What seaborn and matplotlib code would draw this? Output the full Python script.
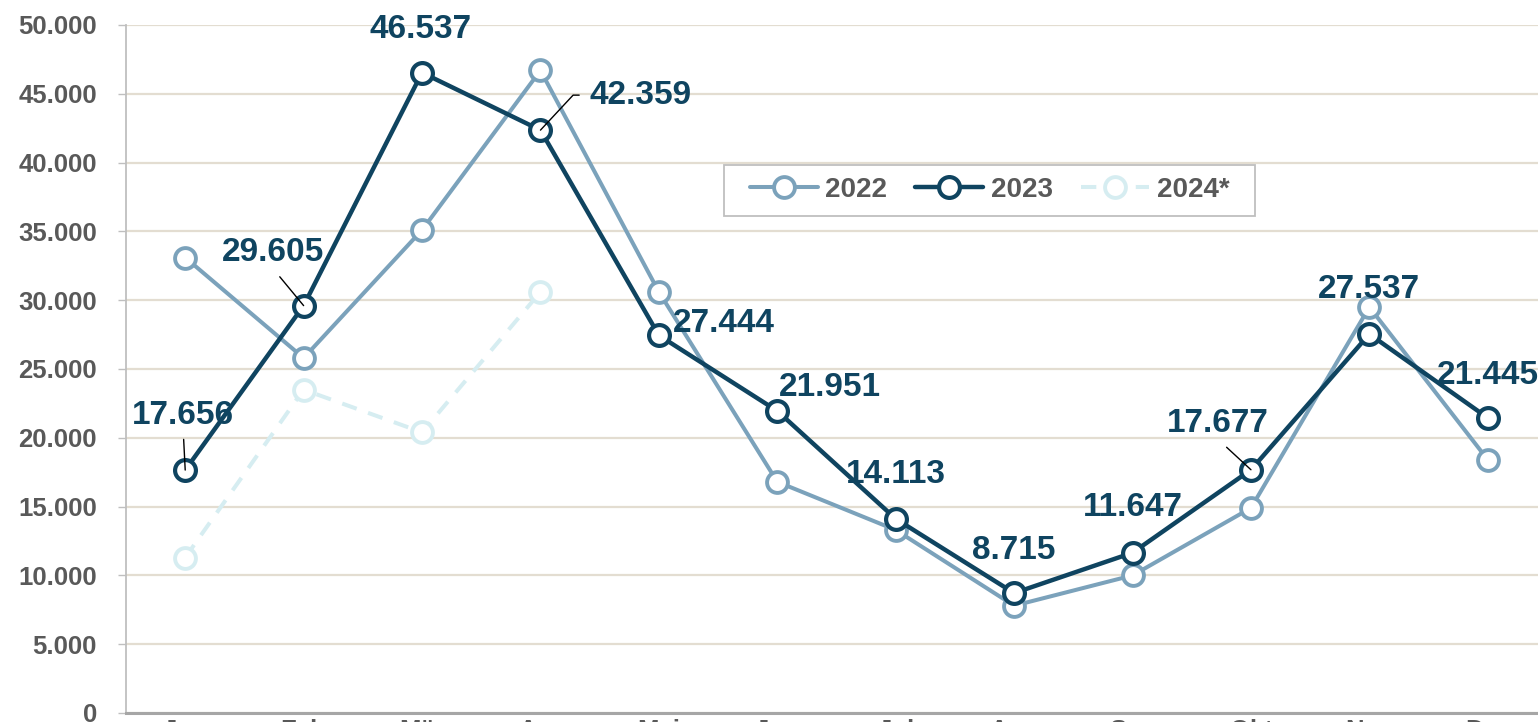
import matplotlib
matplotlib.use("Agg")
import matplotlib.pyplot as plt
import matplotlib.ticker as mticker
from matplotlib.patches import Rectangle
from matplotlib.transforms import IdentityTransform
import pandas as pd
import seaborn as sns

# Monthly values
months = ["Jan", "Feb", "Mär", "Apr", "Mai", "Jun", "Jul", "Aug", "Sep", "Okt", "Nov", "Dez"]
values_2022 = [33100, 25800, 35100, 46700, 30600, 16800, 13300, 7800, 10000, 14900, 29500, 18400]
values_2023 = [17656, 29605, 46537, 42359, 27444, 21951, 14113, 8715, 11647, 17677, 27537, 21445]
values_2024 = [11300, 23500, 20400, 30600]
series_names = ["2022", "2023", "2024*"]

# Placement of the 2023 value labels (pixel offsets from the point) and leader lines
label_offsets = [(-2, 55), (-31, 53), (-1, 43), (100, 35), (65, 12), (53, 23),
                 (0, 44), (0, 43), (0, 45), (-33, 46), (0, 45), (0, 42)]
leaders = {
    0: dict(connectionstyle="arc3", relpos=(0.5, 0.0), shrinkA=4),
    1: dict(connectionstyle="arc3", relpos=(0.5, 0.0), shrinkA=5),
    3: dict(connectionstyle="angle,angleA=0,angleB=47,rad=0", relpos=(0.0, 0.5), shrinkA=5),
    9: dict(connectionstyle="arc3", relpos=(0.5, 0.0), shrinkA=5),
}

C2022 = "#7BA2BB"
C2023 = "#0F4460"
C2024 = "#D6EDF1"
GRID = "#E3DDD1"
TICK_TXT = "#595959"

sns.set_style("white")
plt.rcParams["font.family"] = ["Liberation Sans", "DejaVu Sans"]

DPI = 100
fig = plt.figure(figsize=(15.38, 7.22), dpi=DPI)
ax = fig.add_axes([126 / 1538, 9 / 722, 1421 / 1538, 688 / 722])

df22 = pd.DataFrame({"m": range(len(values_2022)), "v": values_2022})
df23 = pd.DataFrame({"m": range(len(values_2023)), "v": values_2023})
df24 = pd.DataFrame({"m": range(len(values_2024)), "v": values_2024})

common = dict(marker="o", markersize=15, markerfacecolor="white", ax=ax)
sns.lineplot(data=df24, x="m", y="v", color=C2024, linewidth=2.9,
             linestyle=(0, (3.8, 3.0)), markeredgecolor=C2024, markeredgewidth=2.8,
             label=series_names[2], zorder=2, **common)
sns.lineplot(data=df22, x="m", y="v", color=C2022, linewidth=2.9,
             markeredgecolor=C2022, markeredgewidth=2.8,
             label=series_names[0], zorder=3, **common)
sns.lineplot(data=df23, x="m", y="v", color=C2023, linewidth=3.2,
             markeredgecolor=C2023, markeredgewidth=3.0,
             label=series_names[1], zorder=4, **common)

ax.set_xlim(-0.5, len(months) - 0.5)
ax.set_ylim(0, 50000)
ax.set_xticks(range(len(months)))
ax.set_xticklabels(months)
ax.yaxis.set_major_locator(mticker.MultipleLocator(5000))
ax.yaxis.set_major_formatter(mticker.FuncFormatter(lambda v, p: f"{int(v):,}".replace(",", ".")))
ax.set_xlabel("")
ax.set_ylabel("")

ax.grid(axis="y", color=GRID, linewidth=1.6, zorder=0)
ax.grid(axis="x", visible=False)
ax.set_axisbelow(True)

for s in ("top", "right"):
    ax.spines[s].set_visible(False)
ax.spines["left"].set_color("#BFBFBF")
ax.spines["left"].set_linewidth(1.3)
ax.spines["bottom"].set_color("#A6A6A6")
ax.spines["bottom"].set_linewidth(2.2)

ax.tick_params(axis="y", which="major", length=6, width=1, color="#BFBFBF", pad=15,
               labelsize=18.5, labelcolor=TICK_TXT, left=True)
ax.tick_params(axis="x", which="major", length=0, pad=4, labelsize=18.5, labelcolor=TICK_TXT)
for lab in ax.get_yticklabels() + ax.get_xticklabels():
    lab.set_fontweight("bold")

# Value labels for 2023
for i, (v, (dx, dy)) in enumerate(zip(values_2023, label_offsets)):
    txt = f"{v:,}".replace(",", ".")
    kw = {}
    if i in leaders:
        kw["arrowprops"] = dict(arrowstyle="-", color="black", lw=1.0, shrinkB=0, **leaders[i])
    ax.annotate(txt, xy=(i, v), xytext=(dx, dy), textcoords="offset pixels",
                ha="center", va="center", fontsize=24, fontweight="bold",
                color=C2023, zorder=6, **kw)

# Legend
handles, labels = ax.get_legend_handles_labels()
order = [labels.index(n) for n in series_names]
leg = ax.legend([handles[k] for k in order], [labels[k] for k in order],
                ncol=3, loc="center", bbox_to_anchor=(989.5 / 1538, 1 - 190 / 722),
                bbox_transform=fig.transFigure, frameon=False,
                prop=dict(weight="bold", size=20),
                labelcolor=TICK_TXT, handlelength=2.45, handletextpad=0.28,
                columnspacing=1.0, borderpad=0.45)
leg.set_zorder(7)

fig.canvas.draw()
bb = leg.get_window_extent()
padx = 13
frame = Rectangle((bb.x0 - padx, bb.y0), bb.width + 2 * padx, bb.height,
                  transform=IdentityTransform(), facecolor="white", edgecolor="#BFBFBF",
                  linewidth=1.3, zorder=6.5, clip_on=False)
ax.add_artist(frame)

fig.savefig("out.png", dpi=DPI)
